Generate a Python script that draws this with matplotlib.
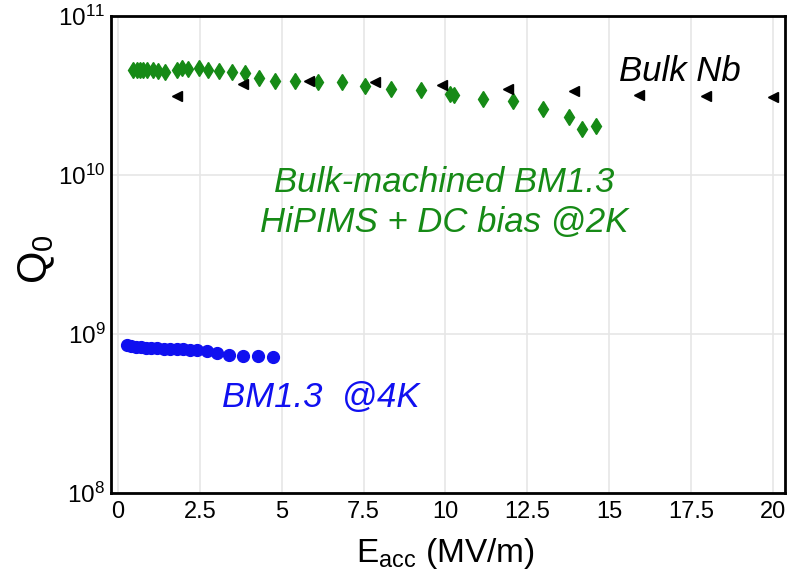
import matplotlib.pyplot as plt
from matplotlib.ticker import FixedLocator, NullLocator

plt.switch_backend('agg')
plt.rcParams['font.family'] = ['Liberation Sans', 'DejaVu Sans']
plt.rcParams['mathtext.fontset'] = 'custom'
plt.rcParams['mathtext.rm'] = 'Liberation Sans'
plt.rcParams['mathtext.it'] = 'Liberation Sans:italic'

# Bulk-machined BM1.3, HiPIMS + DC bias @2K (green diamonds)
hipims_eacc = [0.46, 0.58, 0.67, 0.76, 0.89, 1.07, 1.22, 1.44, 1.80, 1.95, 2.14,
               2.47, 2.75, 3.08, 3.48, 3.88, 4.31, 4.79, 5.40, 6.11, 6.84, 7.54,
               8.34, 9.25, 10.15, 10.25, 11.15, 12.06, 12.98, 13.77, 14.17, 14.6]
hipims_q0 = [4.55e10, 4.6e10, 4.55e10, 4.6e10, 4.55e10, 4.6e10, 4.5e10, 4.45e10,
             4.6e10, 4.7e10, 4.65e10, 4.72e10, 4.59e10, 4.52e10, 4.46e10, 4.39e10,
             4.09e10, 3.92e10, 3.92e10, 3.87e10, 3.82e10, 3.61e10, 3.45e10, 3.41e10,
             3.25e10, 3.2e10, 3.0e10, 2.92e10, 2.6e10, 2.32e10, 1.96e10, 2.02e10]

# Bulk Nb reference (black triangles)
bulk_eacc = [1.80, 3.82, 5.83, 7.85, 9.89, 11.9, 13.92, 15.9, 17.95, 20.0]
bulk_q0 = [3.13e10, 3.76e10, 3.92e10, 3.87e10, 3.70e10, 3.45e10, 3.36e10,
           3.17e10, 3.13e10, 3.08e10]

# BM1.3 @4K (blue circles)
cold_eacc = [0.27, 0.4, 0.55, 0.7, 0.85, 1.0, 1.2, 1.4, 1.6, 1.8, 2.0, 2.2,
             2.4, 2.73, 3.03, 3.4, 3.81, 4.29, 4.74]
cold_q0 = [8.5e8, 8.35e8, 8.3e8, 8.25e8, 8.2e8, 8.2e8, 8.15e8, 8.1e8, 8.1e8,
           8.05e8, 8.0e8, 7.95e8, 7.9e8, 7.8e8, 7.55e8, 7.4e8, 7.3e8, 7.3e8, 7.2e8]

x_ticks = [0, 2.5, 5, 7.5, 10, 12.5, 15, 17.5, 20]
x_tick_labels = ['0', '2.5', '5', '7.5', '10', '12.5', '15', '17.5', '20']
y_ticks = [1e8, 1e9, 1e10, 1e11]
y_tick_labels = ['$10^{8}$', '$10^{9}$', '$10^{10}$', '$10^{11}$']

green = '#168a16'
blue = '#1010f0'

fig = plt.figure(figsize=(8.07, 5.84), dpi=100)
ax = fig.add_axes([0.1375, 0.1558, 0.8352, 0.8168])

ax.plot(cold_eacc, cold_q0, linestyle='none', marker='o', markersize=8.5,
        color=blue, zorder=3)
ax.plot(hipims_eacc, hipims_q0, linestyle='none', marker='d', markersize=8.5,
        color=green, zorder=3)
ax.plot(bulk_eacc, bulk_q0, linestyle='none', marker='<', markersize=7.5,
        color='black', zorder=4)

ax.set_yscale('log')
ax.set_xlim(-0.214, 20.37)
ax.set_ylim(1e8, 1e11)
ax.xaxis.set_major_locator(FixedLocator(x_ticks))
ax.set_xticklabels(x_tick_labels)
ax.yaxis.set_major_locator(FixedLocator(y_ticks))
ax.yaxis.set_minor_locator(NullLocator())
ax.set_yticklabels(y_tick_labels)
ax.tick_params(axis='x', length=0, pad=6, labelsize=17)
ax.tick_params(axis='y', length=0, pad=4, labelsize=17.5)

ax.grid(True, color='#e6e6e6', linewidth=1.2)
ax.set_axisbelow(True)
for sp in ax.spines.values():
    sp.set_linewidth(2.0)
    sp.set_color('black')

ax.set_ylabel('Q$_0$', fontsize=30)
ax.yaxis.set_label_coords(-0.08, 0.49)
ax.set_xlabel('E$_\\mathregular{acc}$ (MV/m)', fontsize=24)
ax.xaxis.set_label_coords(0.496, -0.09)

ax.text(17.16, 4.5e10, 'Bulk Nb', fontsize=25, style='italic',
        color='black', ha='center', va='center')
ax.text(9.95, 6.7e9, 'Bulk-machined BM1.3\nHiPIMS + DC bias @2K', fontsize=25,
        style='italic', color=green, ha='center', va='center', linespacing=1.25)
ax.text(6.2, 4.0e8, 'BM1.3  @4K', fontsize=25, style='italic',
        color=blue, ha='center', va='center')

fig.savefig('out.png', dpi=100)
